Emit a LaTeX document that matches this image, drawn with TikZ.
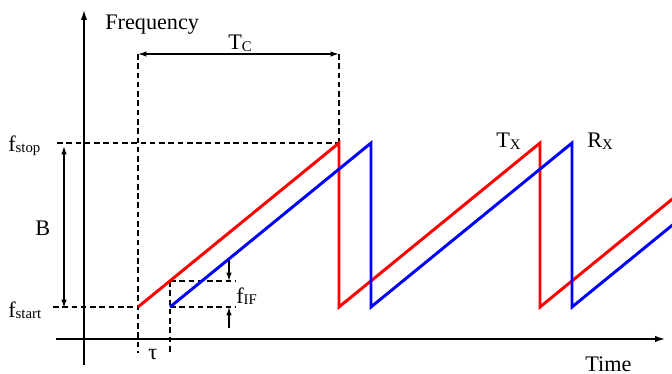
\documentclass[tikz,border=0pt]{standalone}
\usepackage{fontspec}
\setmainfont{Liberation Serif}
\usepackage{tikz}
\usetikzlibrary{arrows.meta}
\definecolor{txred}{HTML}{FF0000}
\definecolor{rxblue}{HTML}{0000FF}
\definecolor{ink}{HTML}{000000}
\newcommand{\lowsub}[1]{\raisebox{-1pt}{\fontsize{10.5}{12}\selectfont #1}}
\tikzset{
  >={Latex[length=6pt,width=4pt]},
  font=\fontsize{15.8}{18}\selectfont,
  every node/.append style={text=ink, inner sep=0pt},
  axis/.style={draw=ink, line width=1pt, -{Latex[length=7pt,width=4.5pt]}},
  guide/.style={draw=ink, line width=0.9pt, dash pattern=on 4pt off 2.6pt},
  dimline/.style={draw=ink, line width=1pt},
  txline/.style={draw=txred, line width=2.1pt, line join=miter},
  rxline/.style={draw=rxblue, line width=2.1pt, line join=miter},
  lbl/.style={anchor=base west},
}

\begin{document}
\begin{tikzpicture}[x=0.025cm,y=-0.025cm]
  \useasboundingbox (0,0) rectangle (672,374);

  % axes
  \coordinate (ybot) at (84,365);
  \coordinate (ytop) at (84,10);
  \coordinate (xleft) at (56,339);
  \coordinate (xright) at (665,339);
  \draw[axis] (ybot) -- (ytop);
  \draw[axis] (xleft) -- (xright);
  \node[lbl] (freqlbl) at (105,30) {Frequency};
  \node[lbl] (timelbl) at (585,371) {Time};

  % key points
  \coordinate (txstart) at (138,307);
  \coordinate (txpeak) at (339,143);
  \coordinate (rxstart) at (170,307);
  \coordinate (txcross) at (170,281);
  \coordinate (tcleft) at (138,54);
  \coordinate (tcright) at (339,54);

  % guide lines
  \draw[guide] (tcleft) -- (138,353);
  \draw[guide] (tcright) -- (txpeak);
  \draw[guide] (57,143) -- (txpeak);
  \draw[guide] (53,307) -- (txstart);
  \draw[guide] (txcross) -- (170,352);
  \draw[guide] (txcross) -- (235,281);
  \draw[guide] (rxstart) -- (235,307);

  % chirp period
  \draw[dimline, <->] (tcleft) -- (tcright);
  \node[lbl] (tclbl) at (228,50) {T\lowsub{C}};

  % bandwidth
  \coordinate (bwtop) at (64,146);
  \coordinate (bwbot) at (64,308);
  \draw[dimline, <->] (bwtop) -- (bwbot);
  \node[lbl] (bwlbl) at (35,235) {B};
  \node[lbl] (fstoplbl) at (8,151) {f\lowsub{stop}};
  \node[lbl] (fstartlbl) at (8,317) {f\lowsub{start}};

  % delay and beat frequency
  \node[lbl] (taulbl) at (148,359) {τ};
  \coordinate (ifa) at (229,258);
  \coordinate (ifb) at (229,281);
  \coordinate (ifc) at (229,328);
  \coordinate (ifd) at (229,307);
  \draw[dimline, ->] (ifa) -- (ifb);
  \draw[dimline, ->] (ifc) -- (ifd);
  \node[lbl] (fiflbl) at (236,303) {f\lowsub{IF}};

  % sawtooth chirps
  \begin{scope}
    \clip (0,0) rectangle (672,374);
    \draw[txline] (txstart) -- (txpeak) -- (339,307) -- (540,143) -- (540,307) -- (741,143);
    \draw[rxline] (rxstart) -- (371,143) -- (371,307) -- (572,143) -- (572,307) -- (773,143);
  \end{scope}
  \node[lbl] (txlbl) at (496,148) {T\lowsub{X}};
  \node[lbl] (rxlbl) at (587,148) {R\lowsub{X}};
\end{tikzpicture}
\end{document}
